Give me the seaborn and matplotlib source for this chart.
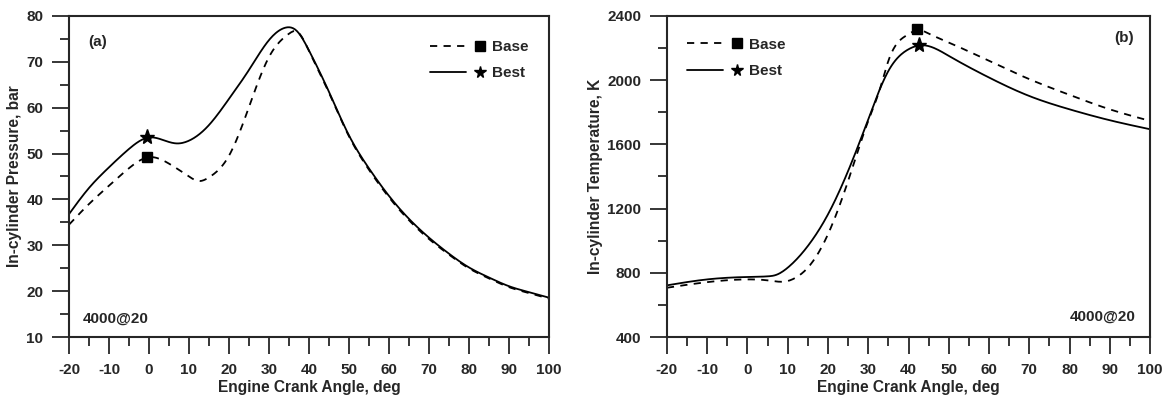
import numpy as np
import pandas as pd
import matplotlib
matplotlib.use("Agg")
import matplotlib.pyplot as plt
import seaborn as sns
from matplotlib.lines import Line2D
from matplotlib.legend_handler import HandlerBase
from matplotlib.ticker import MultipleLocator

# ---- data ----
p_best_x = [-20, -15, -10, -5, 0, 4, 7, 10, 15, 20, 25, 30, 34, 37, 40, 45, 50, 55, 60, 65, 70, 75, 80, 85, 90, 95, 100]
p_best_y = [36.8, 42.5, 47.0, 51.0, 53.5, 52.8, 52.2, 52.8, 56.2, 61.9, 68.2, 74.7, 77.4, 76.7, 72.5, 63.5, 54.0, 46.8, 40.8, 35.8, 31.7, 28.2, 25.2, 23.0, 21.1, 19.8, 18.6]
p_base_x = [-20, -15, -10, -5, 0, 5, 10, 12.5, 15, 20, 25, 30, 35, 37, 40, 45, 50, 55, 60, 65, 70, 75, 80, 85, 90, 95, 100]
p_base_y = [34.5, 39.0, 43.0, 46.8, 49.2, 47.8, 45.0, 44.0, 44.8, 49.5, 60.1, 71.0, 76.1, 76.6, 72.4, 63.3, 53.8, 46.5, 40.5, 35.5, 31.4, 28.0, 25.0, 22.8, 20.9, 19.6, 18.4]
p_base_peak = (-0.5, 49.2)
p_best_peak = (-0.5, 53.5)

t_best_x = [-20, -10, 0, 5, 7, 10, 15, 20, 25, 30, 35, 40, 43, 50, 60, 70, 80, 90, 100]
t_best_y = [722, 759, 774, 778, 786, 832, 967, 1164, 1434, 1756, 2057, 2192, 2217, 2151, 2016, 1901, 1818, 1750, 1694]
t_base_x = [-20, -10, 0, 5, 10, 12, 15, 20, 25, 30, 33, 35, 40, 42, 45, 50, 60, 70, 80, 90, 100]
t_base_y = [707, 742, 759, 753, 749, 770, 832, 1040, 1372, 1746, 1953, 2120, 2286, 2311, 2290, 2234, 2120, 2006, 1908, 1818, 1746]
t_base_peak = (42, 2320)
t_best_peak = (42.5, 2217)

x_ticks = list(range(-20, 101, 10))


def smooth(xs, ys, n=500):
    """Natural cubic spline through the read points."""
    xs = np.asarray(xs, float); ys = np.asarray(ys, float)
    N = len(xs); h = np.diff(xs)
    A = np.zeros((N, N)); r = np.zeros(N)
    A[0, 0] = 1; A[-1, -1] = 1
    for i in range(1, N - 1):
        A[i, i - 1] = h[i - 1]
        A[i, i] = 2 * (h[i - 1] + h[i])
        A[i, i + 1] = h[i]
        r[i] = 6 * ((ys[i + 1] - ys[i]) / h[i] - (ys[i] - ys[i - 1]) / h[i - 1])
    M = np.linalg.solve(A, r)
    xx = np.linspace(xs[0], xs[-1], n)
    k = np.clip(np.searchsorted(xs, xx) - 1, 0, N - 2)
    a = xs[k + 1] - xx; b = xx - xs[k]; hk = h[k]
    yy = (M[k] * a**3 / (6 * hk) + M[k + 1] * b**3 / (6 * hk)
          + (ys[k] / hk - M[k] * hk / 6) * a + (ys[k + 1] / hk - M[k + 1] * hk / 6) * b)
    return xx, yy


sns.set_style("ticks")
plt.rcParams['font.family'] = ['Liberation Sans', 'DejaVu Sans']
plt.rcParams['font.weight'] = 'bold'
plt.rcParams['axes.labelweight'] = 'bold'
plt.rcParams['axes.unicode_minus'] = False

fig = plt.figure(figsize=(11.7, 3.97), dpi=100)
axL = fig.add_axes([0.059, 0.151, 0.410, 0.809])
axR = fig.add_axes([0.570, 0.151, 0.413, 0.809])

DASH = (4, 3.5)


def make_df(xs, ys, name):
    xx, yy = smooth(xs, ys)
    return pd.DataFrame({"x": xx, "y": yy, "case": name})


def draw(ax, bx, by, sx, sy, bpk, spk):
    df = pd.concat([make_df(bx, by, "Base"), make_df(sx, sy, "Best")])
    sns.lineplot(data=df, x="x", y="y", hue="case", style="case",
                 palette={"Base": "black", "Best": "black"},
                 dashes={"Base": DASH, "Best": ""}, linewidth=1.3,
                 ax=ax, legend=False, estimator=None, sort=False)
    ax.plot([bpk[0]], [bpk[1]], marker="s", color="black", markersize=7, linestyle="none")
    ax.plot([spk[0]], [spk[1]], marker="*", color="black", markersize=11, linestyle="none")


def style(ax, ylo, yhi, ymaj, ymin, ylabel):
    ax.set_xlim(-20, 100)
    ax.set_ylim(ylo, yhi)
    ax.set_xticks(x_ticks)
    ax.xaxis.set_minor_locator(MultipleLocator(5))
    ax.yaxis.set_major_locator(MultipleLocator(ymaj))
    ax.yaxis.set_minor_locator(MultipleLocator(ymin))
    ax.tick_params(axis="both", which="major", direction="out", length=12, width=1.3,
                   labelsize=11, pad=6.5)
    ax.tick_params(axis="both", which="minor", direction="out", length=6.5, width=1.3)
    for lab in ax.get_xticklabels() + ax.get_yticklabels():
        lab.set_fontweight("bold")
    for sp in ax.spines.values():
        sp.set_visible(True)
        sp.set_linewidth(1.5)
    ax.set_xlabel("Engine Crank Angle, deg", fontsize=11.2, fontweight="bold", labelpad=2)
    ax.set_ylabel(ylabel, fontsize=11.2, fontweight="bold", labelpad=3)


class LineMarkerHandler(HandlerBase):
    def create_artists(self, legend, orig_handle, xdescent, ydescent, width, height, fontsize, trans):
        ls, marker, ms = orig_handle
        y = height / 2 - ydescent
        line = Line2D([-xdescent, -xdescent + 0.66 * width], [y, y], color="black",
                      linestyle=ls, linewidth=1.3, transform=trans)
        mk = Line2D([-xdescent + 0.91 * width], [y], color="black", marker=marker,
                    markersize=ms, linestyle="none", transform=trans)
        return [line, mk]


def legend(ax, anchor):
    base = ((0, DASH), "s", 6.5)
    best = ("-", "*", 8.5)
    ax.legend([base, best], ["Base", "Best"],
              handler_map={tuple: LineMarkerHandler()},
              loc="upper left", bbox_to_anchor=anchor, frameon=False, handlelength=3.6,
              handletextpad=0.45, labelspacing=0.8, borderaxespad=0, borderpad=0,
              prop={"weight": "bold", "size": 11})


draw(axL, p_base_x, p_base_y, p_best_x, p_best_y, p_base_peak, p_best_peak)
style(axL, 10, 80, 10, 5, "In-cylinder Pressure, bar")
legend(axL, (0.752, 0.925))
axL.text(-15.3, 74.4, "(a)", fontsize=11, fontweight="bold", va="center", ha="left")
axL.text(-16.5, 14.1, "4000@20", fontsize=11, fontweight="bold", va="center", ha="left")

draw(axR, t_base_x, t_base_y, t_best_x, t_best_y, t_base_peak, t_best_peak)
style(axR, 400, 2400, 400, 200, "In-cylinder Temperature, K")
legend(axR, (0.041, 0.932))
axR.text(96.0, 2263, "(b)", fontsize=11, fontweight="bold", va="center", ha="right")
axR.text(96.3, 525, "4000@20", fontsize=11, fontweight="bold", va="center", ha="right")

fig.savefig("out.png", dpi=100)
